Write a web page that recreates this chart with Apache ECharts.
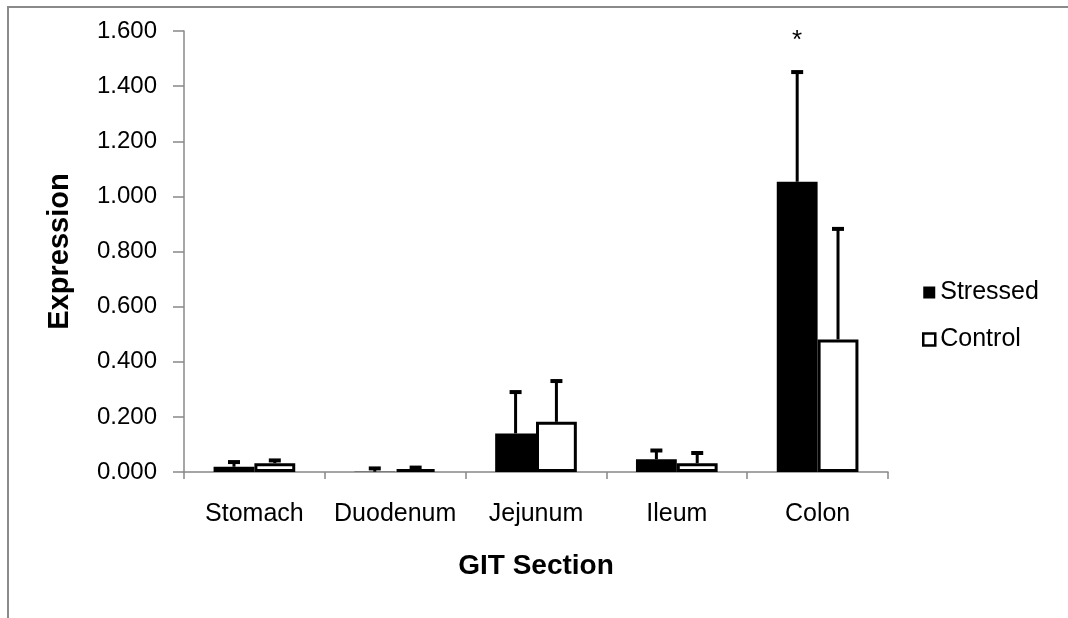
<!DOCTYPE html>
<html>
<head>
<meta charset="utf-8">
<script src="https://cdn.jsdelivr.net/npm/echarts@6/dist/echarts.min.js"></script>
<style>
  html, body { margin: 0; padding: 0; background: #ffffff; }
  #chart { width: 1068px; height: 618px; }
</style>
</head>
<body>
<div id="chart"></div>
<script>
// Gene expression by gastrointestinal section, stressed vs control (mean with upper error bar)
const sections = ['Stomach', 'Duodenum', 'Jejunum', 'Ileum', 'Colon'];
const stressedMean  = [0.019, 0.001, 0.140, 0.046, 1.053];
const stressedUpper = [0.036, 0.013, 0.290, 0.078, 1.451];
const controlMean   = [0.032, 0.010, 0.182, 0.032, 0.481];
const controlUpper  = [0.042, 0.016, 0.330, 0.069, 0.882];
const stressedMarks = ['', '', '', '', '*'];
const yMin = 0;
const yMax = 1.6;
const yStep = 0.2;

const CAT_GAP = 0.42;
const FONT = 'Liberation Sans, Arial, sans-serif';

// Upward error bars (and significance marks) centred on each bar of a pair
function errorBars(name, means, upper, side, marks) {
  return {
    type: 'custom',
    name: name,
    z: 5,
    silent: true,
    encode: { x: 0, y: [1, 2] },
    data: sections.map((s, i) => [i, means[i], upper[i]]),
    renderItem: function (params, api) {
      const i = api.value(0);
      const base = api.coord([i, api.value(1)]);
      const top = api.coord([i, api.value(2)]);
      const band = api.size([1, 0])[0];
      const barW = band * (1 - CAT_GAP) / 2;
      const x = base[0] + side * barW / 2;
      const children = [
        { type: 'line', shape: { x1: x, y1: base[1], x2: x, y2: top[1] },
          style: { stroke: '#000', lineWidth: 3 } },
        { type: 'line', shape: { x1: x - 6, y1: top[1], x2: x + 6, y2: top[1] },
          style: { stroke: '#000', lineWidth: 4 } }
      ];
      const mark = marks ? marks[params.dataIndex] : '';
      if (mark) {
        children.push({
          type: 'text',
          style: { x: x, y: top[1] - 44, text: mark, align: 'center', verticalAlign: 'top',
                   fill: '#000', font: '26px ' + FONT }
        });
      }
      return { type: 'group', children: children };
    }
  };
}

const chart = echarts.init(document.getElementById('chart'), null, { renderer: 'canvas' });

chart.setOption({
  backgroundColor: '#ffffff',
  animation: false,
  textStyle: { fontFamily: FONT, color: '#000' },
  graphic: [{
    type: 'rect',
    shape: { x: 8, y: 7, width: 2000, height: 2000 },
    style: { fill: null, stroke: '#8a8a8a', lineWidth: 2 },
    silent: true
  }],
  grid: { left: 184, right: 180, top: 31, bottom: 146, containLabel: false, outerBoundsMode: 'none' },
  legend: {
    orient: 'vertical',
    left: 922,
    top: 280,
    padding: 0,
    itemWidth: 12,
    itemHeight: 12,
    itemGap: 22,
    icon: 'rect',
    selectedMode: false,
    textStyle: { fontSize: 25, fontFamily: FONT, color: '#000', lineHeight: 24 },
    data: [
      { name: 'Stressed', itemStyle: { color: '#000', borderWidth: 0 } },
      { name: 'Control', itemStyle: { color: '#fff', borderColor: '#000', borderWidth: 2.5 } }
    ]
  },
  xAxis: {
    type: 'category',
    data: sections,
    name: 'GIT Section',
    nameLocation: 'middle',
    nameGap: 80,
    nameTextStyle: { fontSize: 28, fontWeight: 'bold', fontFamily: FONT, color: '#000' },
    axisLine: { lineStyle: { color: '#888', width: 1.5 } },
    axisTick: { show: true, interval: 0, length: 7, lineStyle: { color: '#888', width: 1.5 } },
    axisLabel: { interval: 0, fontSize: 25, margin: 30, color: '#000', fontFamily: FONT },
    splitLine: { show: false }
  },
  yAxis: {
    type: 'value',
    min: yMin,
    max: yMax,
    interval: yStep,
    name: 'Expression',
    nameLocation: 'middle',
    nameRotate: 90,
    nameGap: 110,
    nameTextStyle: { fontSize: 29, fontWeight: 'bold', fontFamily: FONT, color: '#000' },
    axisLine: { show: true, lineStyle: { color: '#888', width: 1.5 } },
    axisTick: { show: true, length: 11, lineStyle: { color: '#888', width: 1.5 } },
    axisLabel: { fontSize: 24, margin: 27, color: '#000', fontFamily: FONT,
                 formatter: v => v.toFixed(3) },
    splitLine: { show: false }
  },
  series: [
    {
      name: 'Stressed',
      type: 'bar',
      data: stressedMean,
      barGap: '0%',
      barCategoryGap: (CAT_GAP * 100) + '%',
      itemStyle: { color: '#000' }
    },
    {
      name: 'Control',
      type: 'bar',
      data: controlMean,
      barGap: '0%',
      barCategoryGap: (CAT_GAP * 100) + '%',
      itemStyle: { color: '#fff', borderColor: '#000', borderWidth: 3 }
    },
    errorBars('Stressed error', stressedMean, stressedUpper, -1, stressedMarks),
    errorBars('Control error', controlMean, controlUpper, 1, null)
  ]
});
</script>
</body>
</html>
